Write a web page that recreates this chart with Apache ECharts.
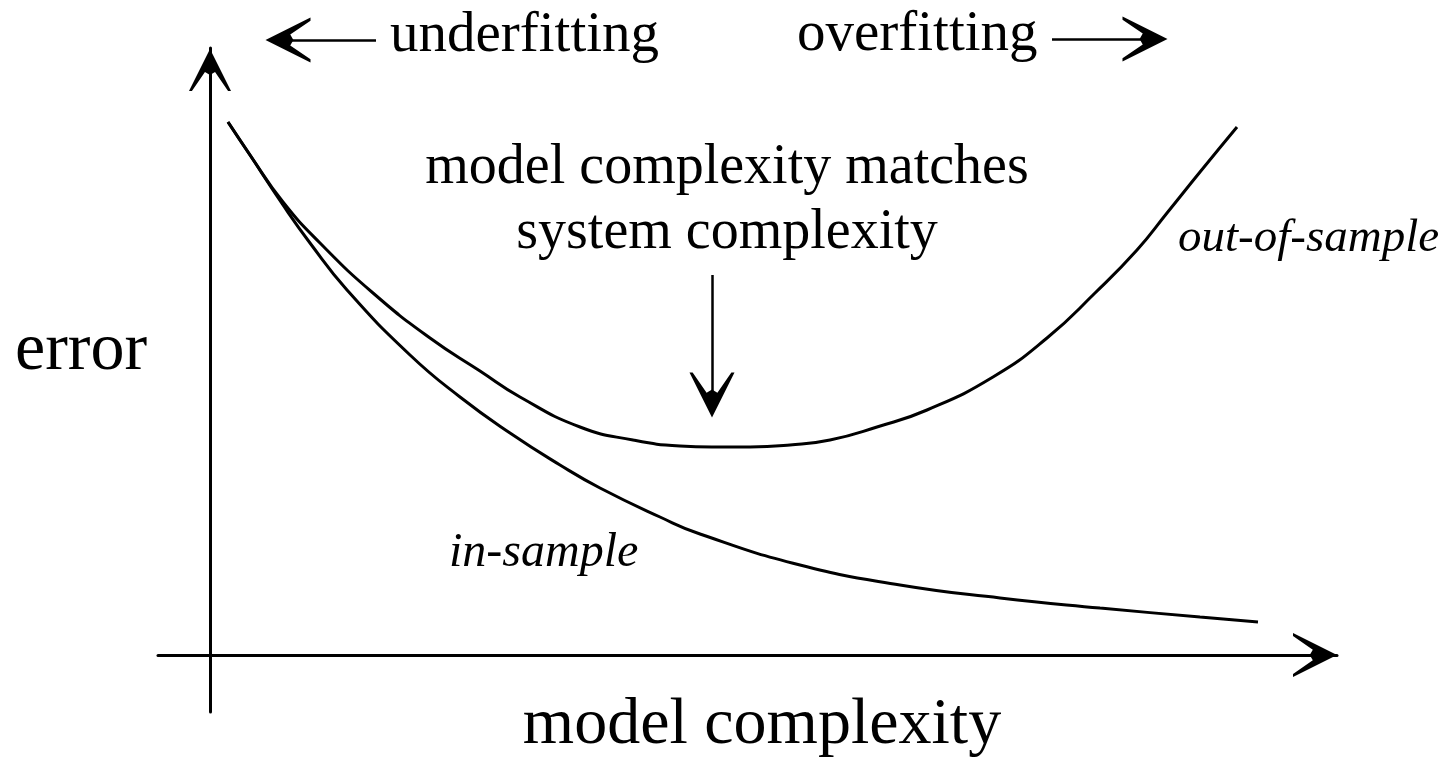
<!DOCTYPE html>
<html>
<head>
<meta charset="utf-8">
<script src="https://cdn.jsdelivr.net/npm/echarts@6/dist/echarts.min.js"></script>
<style>
  html, body { margin: 0; padding: 0; background: #fff; }
  #chart { width: 1448px; height: 760px; }
</style>
</head>
<body>
<div id="chart"></div>
<script>
// model complexity (x) and error (y)
const complexityOut = [0.18, 0.40, 0.73, 1.10, 1.63, 2.20, 2.70, 3.10, 3.70, 4.23, 4.70, 5.02, 5.40, 5.80, 6.20, 6.67, 7.17, 7.83, 8.37, 8.85, 9.27, 9.57, 9.90, 10.27];
const errorOut = [5.33, 5.00, 4.53, 4.12, 3.62, 3.17, 2.84, 2.58, 2.28, 2.15, 2.09, 2.08, 2.08, 2.10, 2.15, 2.28, 2.45, 2.78, 3.17, 3.62, 4.05, 4.42, 4.83, 5.28];

const complexityIn = [0.18, 0.40, 0.73, 1.00, 1.37, 2.00, 2.50, 3.00, 3.50, 3.90, 4.50, 4.90, 5.90, 6.90, 7.90, 8.90, 9.90, 10.48];
const errorIn = [5.33, 5.00, 4.50, 4.12, 3.65, 3.00, 2.58, 2.22, 1.90, 1.67, 1.38, 1.21, 0.90, 0.70, 0.57, 0.47, 0.38, 0.33];

// annotation arrows: [tail, head centre] in data units
const arrowMatch = [[5.02, 3.80], [5.02, 2.60]];
// top strip (its own little grid)
const arrowUnderfit = [[1.66, 4.0], [0.78, 4.0]];
const arrowOverfit = [[8.42, 4.1], [9.35, 4.1]];

const SERIF = '"Liberation Serif", "Times New Roman", serif';
const ARROW = 'path://M50,0 L100,100 L93,100 L62,55 L50,62 L38,55 L7,100 L0,100 Z';

const chart = echarts.init(document.getElementById('chart'));

const toPairs = (xs, ys) => xs.map((x, i) => [x, ys[i]]);
const arrowLine = (pair) => [{ coord: pair[0] }, { coord: pair[1] }];

const hiddenAxis = {
	axisLine: { show: false },
	axisTick: { show: false },
	axisLabel: { show: false },
	splitLine: { show: false }
};

const arrowMarks = (pairs) => ({
	silent: true,
	symbol: ['none', ARROW],
	symbolSize: 45,
	label: { show: false },
	emphasis: { disabled: true },
	lineStyle: { color: '#000', width: 2.5, type: 'solid' },
	data: pairs.map(arrowLine)
});

const option = {
	backgroundColor: '#ffffff',
	animation: false,
	grid: [
		{ left: 158, right: 111, top: 48, bottom: 48 },
		{ left: 158, right: 111, top: 0, bottom: 680 }
	],
	xAxis: [
		{
			type: 'value',
			min: -0.52,
			max: 11.27,
			axisLine: {
				onZero: true,
				lineStyle: { color: '#000', width: 3 },
				symbol: ['none', ARROW],
				symbolSize: [44, 44],
				symbolOffset: [0, -22]
			},
			axisTick: { show: false },
			axisLabel: { show: false },
			splitLine: { show: false }
		},
		Object.assign({ type: 'value', gridIndex: 1, min: -0.52, max: 11.27 }, hiddenAxis)
	],
	yAxis: [
		{
			type: 'value',
			min: -0.57,
			max: 6.07,
			axisLine: {
				onZero: true,
				lineStyle: { color: '#000', width: 3 },
				symbol: ['none', ARROW],
				symbolSize: [42, 44],
				symbolOffset: [0, -22]
			},
			axisTick: { show: false },
			axisLabel: { show: false },
			splitLine: { show: false }
		},
		Object.assign({ type: 'value', gridIndex: 1, min: 0, max: 8 }, hiddenAxis)
	],
	series: [
		{
			name: 'out-of-sample',
			type: 'line',
			data: toPairs(complexityOut, errorOut),
			showSymbol: false,
			smooth: 0.5,
			clip: false,
			lineStyle: { color: '#000', width: 3 }
		},
		{
			name: 'in-sample',
			type: 'line',
			data: toPairs(complexityIn, errorIn),
			showSymbol: false,
			smooth: 0.5,
			clip: false,
			lineStyle: { color: '#000', width: 3 },
			markLine: arrowMarks([arrowMatch])
		},
		{
			name: 'fit arrows',
			type: 'line',
			xAxisIndex: 1,
			yAxisIndex: 1,
			data: [],
			showSymbol: false,
			markLine: arrowMarks([arrowUnderfit, arrowOverfit])
		}
	],
	graphic: [
		{ type: 'text', style: { text: 'underfitting', x: 390, y: 36, font: '57px ' + SERIF, fill: '#000', align: 'left', verticalAlign: 'middle' } },
		{ type: 'text', style: { text: 'overfitting', x: 797, y: 35, font: '57px ' + SERIF, fill: '#000', align: 'left', verticalAlign: 'middle' } },
		{ type: 'text', style: { text: 'model complexity matches', x: 727, y: 168, font: '56px ' + SERIF, fill: '#000', align: 'center', verticalAlign: 'middle' } },
		{ type: 'text', style: { text: 'system complexity', x: 727, y: 233, font: '56px ' + SERIF, fill: '#000', align: 'center', verticalAlign: 'middle' } },
		{ type: 'text', style: { text: 'out-of-sample', x: 1178, y: 239, font: 'italic 47px ' + SERIF, fill: '#000', align: 'left', verticalAlign: 'middle' } },
		{ type: 'text', style: { text: 'in-sample', x: 449, y: 553, font: 'italic 48px ' + SERIF, fill: '#000', align: 'left', verticalAlign: 'middle' } },
		{ type: 'text', style: { text: 'error', x: 15, y: 351, font: '68px ' + SERIF, fill: '#000', align: 'left', verticalAlign: 'middle' } },
		{ type: 'text', style: { text: 'model complexity', x: 762, y: 726, font: '66px ' + SERIF, fill: '#000', align: 'center', verticalAlign: 'middle' } }
	]
};

chart.setOption(option);
</script>
</body>
</html>
